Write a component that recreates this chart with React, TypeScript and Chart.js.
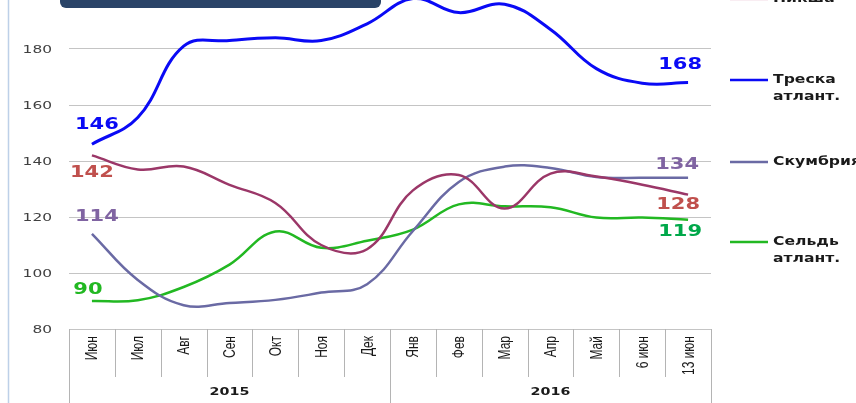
import React, { useEffect, useRef } from "react";
import { Chart, registerables } from "chart.js";

Chart.register(...registerables);

const categories = ["Июн", "Июл", "Авг", "Сен", "Окт", "Ноя", "Дек", "Янв", "Фев", "Мар", "Апр", "Май", "6 июн", "13 июн"];
const yearLabels = ["2015", "2016"];
const yearSpans = [7, 7];
const yTickValues = [80, 100, 120, 140, 160, 180, 200];

const pikshaValues = [142, 137, 138, 131.5, 125, 110, 108.5, 129.5, 135, 123, 135.5, 134.5, 131.5, 128];
const treskaValues = [146, 155.5, 181, 183, 184, 183, 189, 198, 193, 196, 187, 173, 167.8, 168];
const skumbriyaValues = [114, 97.5, 88.5, 89.3, 90.4, 93, 96, 115, 132.5, 138, 137.5, 134.3, 134, 134];
const seldValues = [90, 90.3, 95, 103, 114.8, 109, 111.5, 115.5, 124.5, 123.8, 123.5, 119.8, 119.8, 119];

const seriesNames = ["Пикша", "Треска атлант.", "Скумбрия", "Сельдь атлант."];

const OY = 20; // canvas offset above page top
const W = 856;
const H = 440;

const COL_PIKSHA = "#9b3768";
const COL_TRESKA = "#0a0af5";
const COL_SKUM = "#6a6aa4";
const COL_SELD = "#22b822";

export default function App() {
  const ref = useRef<HTMLCanvasElement | null>(null);

  useEffect(() => {
    const canvas = ref.current;
    if (!canvas) return;

    const stretchText = (ctx: CanvasRenderingContext2D, text: string, x: number, y: number, sx: number, align: CanvasTextAlign) => {
      ctx.save();
      ctx.translate(x, y);
      ctx.scale(sx, 1);
      ctx.textAlign = align;
      ctx.textBaseline = "middle";
      ctx.fillText(text, 0, 0);
      ctx.restore();
    };

    const overlay = {
      id: "overlay",
      afterDraw(chart: any) {
        const ctx: CanvasRenderingContext2D = chart.ctx;
        const xs = chart.scales.x;
        const ys = chart.scales.y;
        const area = chart.chartArea;
        ctx.save();

        // left frame line
        ctx.strokeStyle = "#bdd0e8";
        ctx.lineWidth = 1.5;
        ctx.beginPath();
        ctx.moveTo(8.5, 0);
        ctx.lineTo(8.5, H);
        ctx.stroke();

        // top title box (cut off)
        ctx.fillStyle = "#2a4468";
        ctx.beginPath();
        (ctx as any).roundRect(60, 0, 321, 8 + OY, 6);
        ctx.fill();

        // y tick labels
        ctx.fillStyle = "#404040";
        ctx.font = "11px 'DejaVu Sans'";
        yTickValues.forEach((v) => {
          stretchText(ctx, String(v), 52, ys.getPixelForValue(v) + 1, 1.4, "right");
        });

        // x axis separators
        const bottom = area.bottom;
        const n = categories.length;
        const step = (xs.getPixelForValue(1) - xs.getPixelForValue(0));
        ctx.strokeStyle = "#b4b4b4";
        ctx.lineWidth = 1;
        let groupBounds = [0];
        let acc = 0;
        yearSpans.forEach((s) => { acc += s; groupBounds.push(acc); });
        for (let i = 0; i <= n; i++) {
          const x = Math.round(xs.getPixelForValue(i) - step / 2) + 0.5;
          const isGroup = groupBounds.includes(i);
          ctx.beginPath();
          ctx.moveTo(x, bottom);
          ctx.lineTo(x, isGroup ? H : bottom + 48);
          ctx.stroke();
        }

        // x category labels (rotated)
        ctx.fillStyle = "#1a1a1a";
        ctx.font = "12px 'Liberation Sans'";
        categories.forEach((c, i) => {
          const x = xs.getPixelForValue(i) + 1;
          ctx.save();
          ctx.translate(x, bottom + 7);
          ctx.scale(1.35, 1);
          ctx.rotate(-Math.PI / 2);
          ctx.textAlign = "right";
          ctx.textBaseline = "middle";
          ctx.fillText(c, 0, 0);
          ctx.restore();
        });

        // year labels
        ctx.font = "bold 11px 'DejaVu Sans'";
        ctx.fillStyle = "#1a1a1a";
        let start = 0;
        yearLabels.forEach((y, gi) => {
          const end = start + yearSpans[gi] - 1;
          const cx = (xs.getPixelForValue(start) + xs.getPixelForValue(end)) / 2;
          stretchText(ctx, y, cx, 392 + OY, 1.3, "center");
          start = end + 1;
        });

        // legend
        const legend = [
          { name: [seriesNames[0]], color: "#e8b6ca", y: -1 },
          { name: ["Треска", "атлант."], color: COL_TRESKA, y: 80 },
          { name: [seriesNames[2]], color: COL_SKUM, y: 162 },
          { name: ["Сельдь", "атлант."], color: COL_SELD, y: 242 },
        ];
        ctx.font = "bold 13px 'DejaVu Sans'";
        legend.forEach((l) => {
          const yy = l.y + OY;
          ctx.strokeStyle = l.color;
          ctx.lineWidth = 2.5;
          ctx.beginPath();
          ctx.moveTo(730, yy);
          ctx.lineTo(768, yy);
          ctx.stroke();
          ctx.fillStyle = "#1a1a1a";
          l.name.forEach((t, k) => {
            stretchText(ctx, t, 773, yy + k * 17, 1.2, "left");
          });
        });

        // data labels
        ctx.font = "bold 15px 'DejaVu Sans'";
        const last = n - 1;
        const lab = (vals: number[], idx: number, dx: number, dy: number, color: string) => {
          ctx.fillStyle = color;
          const px = xs.getPixelForValue(idx) + dx;
          const py = ys.getPixelForValue(vals[idx]) + dy;
          stretchText(ctx, String(Math.round(vals[idx])), px, py, 1.4, "center");
        };
        lab(treskaValues, 0, 5, -19, "#0a0af5");
        lab(pikshaValues, 0, 0, 18, "#c0504d");
        lab(skumbriyaValues, 0, 5, -17, "#8064a2");
        lab(seldValues, 0, -4, -11, "#22b822");
        lab(treskaValues, last, -8, -17, "#0a0af5");
        lab(skumbriyaValues, last, -11, -13, "#8064a2");
        lab(pikshaValues, last, -10, 11, "#c0504d");
        lab(seldValues, last, -8, 12, "#00a84a");

        ctx.restore();
      },
    };

    const mk = (label: string, data: number[], color: string, width: number) => ({
      label,
      data,
      borderColor: color,
      backgroundColor: color,
      borderWidth: width,
      pointRadius: 0,
      tension: 0.4,
      fill: false,
    });

    const chart = new Chart(canvas, {
      type: "line",
      data: {
        labels: categories,
        datasets: [
          mk(seriesNames[1], treskaValues, COL_TRESKA, 3),
          mk(seriesNames[0], pikshaValues, COL_PIKSHA, 2.5),
          mk(seriesNames[2], skumbriyaValues, COL_SKUM, 2.5),
          mk(seriesNames[3], seldValues, COL_SELD, 2.5),
        ],
      },
      options: {
        responsive: false,
        animation: false,
        layout: { padding: { left: 69, right: W - 711, top: 13, bottom: H - (329 + OY) } },
        plugins: { legend: { display: false }, tooltip: { enabled: false } },
        scales: {
          x: {
            type: "category",
            display: false,
            offset: true,
          },
          y: {
            min: 80,
            max: 200,
            display: true,
            border: { display: false },
            ticks: { display: false, stepSize: 20 },
            grid: { color: "#c4c4c4", lineWidth: 1, drawTicks: false },
            afterFit: (s: any) => { s.width = 0; },
          },
        },
      },
      plugins: [overlay],
    } as any);

    return () => chart.destroy();
  }, []);

  return (
    <div style={{ position: "fixed", left: 0, top: -OY, width: W, height: H, background: "#fff" }}>
      <canvas ref={ref} width={W} height={H} style={{ width: W, height: H, display: "block" }} />
    </div>
  );
}
